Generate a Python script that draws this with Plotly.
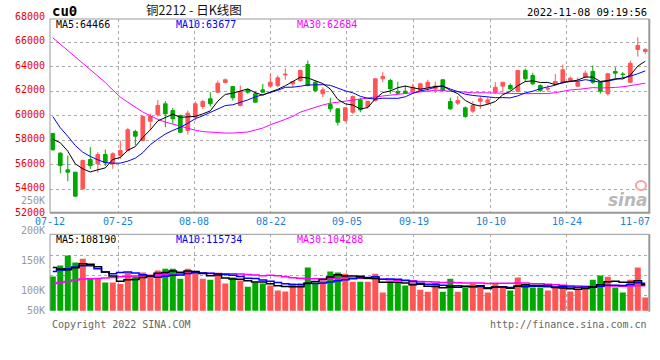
import plotly.graph_objects as go

# ---------------- data ----------------
dates = ["07-12","07-13","07-14","07-15","07-18","07-19","07-20","07-21","07-22","07-25",
         "07-26","07-27","07-28","07-29","08-01","08-02","08-03","08-04","08-05","08-08",
         "08-09","08-10","08-11","08-12","08-15","08-16","08-17","08-18","08-19","08-22",
         "08-23","08-24","08-25","08-26","08-29","08-30","08-31","09-01","09-02","09-05",
         "09-06","09-07","09-08","09-09","09-13","09-14","09-15","09-16","09-19","09-20",
         "09-21","09-22","09-23","09-26","09-27","09-28","09-29","09-30","10-10","10-11",
         "10-12","10-13","10-14","10-17","10-18","10-19","10-20","10-21","10-24","10-25",
         "10-26","10-27","10-28","10-31","11-01","11-02","11-03","11-04","11-07","11-08"]

opens = [58560,56950,55590,55400,54040,56430,56080,56840,56080,56750,
         57170,58720,57980,59560,60100,60980,60430,60020,58800,59890,
         60760,61390,61930,62720,62390,60840,62120,61800,62120,62420,
         62470,63330,62610,62880,64190,62740,61800,60920,60570,59620,
         60290,61300,60760,61250,63020,62880,61980,62010,61980,62070,
         62330,62200,62940,61170,61030,60650,60380,61190,61030,61930,
         62420,62470,62010,63700,63290,62470,62180,62610,62740,62880,
         62420,63150,63620,62740,61800,63620,63410,62740,65410,65250]
highs = [58600,57030,56760,55420,56430,57440,57030,57250,57030,57980,
         59020,58860,60000,60160,61300,61200,60650,60100,60430,61190,
         61300,61930,62880,63050,62400,62470,62200,62000,62610,63430,
         63300,63870,62800,63760,64510,62880,62330,61470,60570,60650,
         61660,61470,61190,63020,63560,63020,62780,62470,62610,62700,
         62940,62800,62980,61470,61610,60760,61190,61580,61520,62750,
         62740,62660,63700,63860,63520,62570,62510,63410,64190,63210,
         63140,63700,64110,62800,63480,63970,63560,64510,66420,65520]
lows = [57170,55310,54660,53360,53960,55670,55350,55890,55670,56490,
        57100,57570,57900,58800,59950,59070,59350,58580,58470,59620,
        60570,60760,61850,62660,61250,60760,61800,61050,61850,62330,
        62330,62940,62330,62800,62390,61930,61520,60290,59210,59480,
        60160,60290,60570,61190,62740,61800,61740,61800,61930,61980,
        61980,61850,61970,60490,60880,59840,60240,60570,60920,61810,
        61930,62070,61930,62780,62510,61970,61970,62610,62610,62740,
        62390,63100,62610,61800,61660,63100,63100,62660,64840,65060]
closes = [57220,55940,55400,53440,56350,55940,56840,56160,56900,57170,
          58860,58330,59940,59940,60840,60160,59760,58660,60210,60980,
          61170,60980,62660,62940,61470,61980,61930,61110,61930,62740,
          63100,63390,62800,63700,62470,62060,62120,60570,59480,60650,
          61580,60490,61190,63020,63210,62200,61850,61850,62330,62610,
          62740,62420,62070,60570,61250,59940,60840,61390,61300,62330,
          62740,62200,63700,63020,62610,62070,62220,62800,63760,63070,
          62740,63480,62740,62010,63430,63480,63370,64290,65740,65410]
volumes = [122200,140500,157200,145500,151700,117800,119500,112200,112200,109500,
           128800,122200,128800,125000,132200,135000,135000,118300,135000,127800,
           118300,116700,123800,110500,120500,115500,105000,112200,110500,107200,
           98800,97200,110500,110500,137200,112200,115500,130500,128800,126700,
           113300,113300,113300,126700,95500,113800,112800,107200,112200,100000,
           96700,111200,96700,118300,96700,103800,110000,103800,95500,110000,
           103800,98800,120500,108300,103800,103800,98800,102800,105500,97200,
           100000,103800,116700,123800,121700,103800,95500,116700,137200,87200]

# moving-average values at the start of the window (they
# depend on days before the first candle)
ma5_head = [58090, 57800, 57110, 56080]
ma10_head = [59940, 59020, 58330, 57570, 57030, 56680, 56410, 56180, 56130]
ma30_head = [66370, 65850, 65340, 64820, 64310, 63810, 63300, 62720, 62100, 61530,
             61110, 60680, 60310, 60010, 59710, 59490, 59310, 59130, 58980, 58820,
             58710, 58650, 58600, 58590, 58590, 58610, 58680, 58840, 59000]
vma5_head = [137200, 134500, 133300, 136700]
vma10_head = [130500, 132800, 135000, 137800, 140000, 140000, 135000, 129500, 126700]
vma30_head = [110500, 112200, 113800, 116200, 117800, 118300, 118800, 119500, 120500, 121700,
              122200, 122800, 123300, 123800, 125000, 125500, 126200, 126700, 127200, 127800,
              127800, 127200, 127200, 126700, 126700, 126200, 125500, 124500, 123300]

price_ticks = [52000, 54000, 56000, 58000, 60000, 62000, 64000, 66000, 68000]
vol_ticks = [100000, 150000, 200000, 250000]
vol_tick_text = ["100K", "150K", "200K", "250K"]
x_labels = ["07-12", "07-25", "08-08", "08-22", "09-05", "09-19", "10-10", "10-24", "11-07"]
header_price = ["MA5:64466", "MA10:63677", "MA30:62684"]
header_vol = ["MA5:108190", "MA10:115734", "MA30:104288"]

# ---------------- derived ----------------
def moving(vals, n, head):
    out = list(head)
    for i in range(n - 1, len(vals)):
        out.append(sum(vals[i - n + 1:i + 1]) / n)
    return out

xs = list(range(len(dates)))
ma5 = moving(closes, 5, ma5_head)
ma10 = moving(closes, 10, ma10_head)
ma30 = moving(closes, 30, ma30_head)
vma5 = moving(volumes, 5, vma5_head)
vma10 = moving(volumes, 10, vma10_head)
vma30 = moving(volumes, 30, vma30_head)

RED = "#ff5555"
GREEN = "#00a800"
vol_colors = [RED if c >= o else GREEN for o, c in zip(opens, closes)]

# ---------------- layout geometry (pixels) ----------------
W, H = 660, 360
L, R = 50, 649.3
P_TOP, P_BOT = 19, 212.7
V_TOP, V_BOT = 234.3, 310.7
STEP, X0 = 7.5, 52.8               # candle pitch and first candle centre
def xd(px):  # pixel -> x data
    return (px - X0) / STEP
def PX(px):
    return px / W
def PY(py):
    return 1 - py / H

PRICE_PER_PX = 1000 / 12.25
P_BASE_PX = 213.8                  # pixel row of 52000
p_lo = 52000 + (P_BASE_PX - P_BOT) * PRICE_PER_PX
p_hi = 52000 + (P_BASE_PX - P_TOP) * PRICE_PER_PX
VOL_PER_PX = 1666.7
v_lo = 65000
v_hi = v_lo + (V_BOT - V_TOP) * VOL_PER_PX
vol_grid = [v_lo + (V_BOT - py) * VOL_PER_PX for py in (255, 275, 295)]
grid_px = [118.3, 194.3, 270.5, 346.5, 413.8, 490.7, 566.7]
label_px = [50, 118.3, 194.3, 270.5, 346.5, 413.8, 490.7, 566.7, 635]
grid_x = [xd(p) for p in grid_px]

def price_py(v):
    return P_BASE_PX - (v - 52000) / PRICE_PER_PX
def vol_py(v):
    return min(V_BOT, V_BOT - (v - v_lo) / VOL_PER_PX)

MONO = "DejaVu Sans Mono"
GRID = "#aaaaaa"

fig = go.Figure()
fig.add_trace(go.Candlestick(
    x=xs, open=opens, high=highs, low=lows, close=closes, text=dates,
    increasing=dict(line=dict(color=RED, width=1), fillcolor=RED),
    decreasing=dict(line=dict(color=GREEN, width=1), fillcolor=GREEN),
    whiskerwidth=0, xaxis="x", yaxis="y", name="cu0"))
for vals, col in ((ma30, "#ff00ff"), (ma10, "#0000ff"), (ma5, "#000000")):
    fig.add_trace(go.Scatter(x=xs, y=vals, mode="lines", line=dict(color=col, width=1),
                             xaxis="x", yaxis="y", hoverinfo="skip"))
fig.add_trace(go.Bar(x=xs, y=volumes, marker=dict(color=vol_colors, line=dict(width=0)),
                     xaxis="x2", yaxis="y2", text=dates, textposition="none"))
for vals, col in ((vma30, "#ff00ff"), (vma10, "#0000ff"), (vma5, "#000000")):
    fig.add_trace(go.Scatter(x=xs, y=vals, mode="lines", line=dict(color=col, width=1.5, shape="hvh"),
                             xaxis="x2", yaxis="y2", hoverinfo="skip"))

axis_common = dict(showticklabels=False, ticks="", zeroline=False, showline=False,
                   showgrid=True, gridcolor=GRID, griddash="dot", gridwidth=1, fixedrange=True)

annotations = []
def ann(text, x, y, color="#000", size=10, xanchor="left", family=MONO):
    annotations.append(dict(text=text, x=x, y=y, xref="paper", yref="paper", showarrow=False,
                            xanchor=xanchor, yanchor="middle",
                            font=dict(family=family, size=size, color=color)))

# header
ann("<b>cu0</b>", PX(64.5), PY(11), size=14, xanchor="center")
ann("铜2212 - 日K线图", PX(194), PY(9.5), size=12.5, xanchor="center", family="Noto Sans CJK SC", color="#111")
ann("2022-11-08 09:19:56", PX(649.3), PY(11.5), size=10.5, xanchor="right")
for txt, px, col in zip(header_price, (53.5, 174, 295), ("#000000", "#0000ff", "#ff00ff")):
    ann(txt, PX(px), PY(24.5), color=col)
for txt, px, col in zip(header_vol, (53.5, 174, 295), ("#000000", "#0000ff", "#ff00ff")):
    ann(txt, PX(px), PY(239.5), color=col)
# price labels (68000 / 52000 sit just outside the plotted range)
for v in price_ticks:
    ann(str(v), PX(47), PY(price_py(v) - 1.5), color="#ee0000", xanchor="right")
# volume labels (50K is pinned to the panel floor)
for v, t in zip(vol_ticks, vol_tick_text):
    ann(t, PX(47), PY(vol_py(v) + 0.5), color="#999999", xanchor="right")
ann("50K", PX(47), PY(V_BOT), color="#999999", xanchor="right")
# date labels
for t, px in zip(x_labels, label_px):
    ann(t, PX(px), PY(221), color="#1a7fd4", xanchor="center")
# footer
ann("Copyright 2022 SINA.COM", PX(49.5), PY(324), color="#666666")
ann("http://finance.sina.com.cn", PX(649.3), PY(324), color="#666666", xanchor="right")
# sina watermark
annotations.append(dict(text="<b><i>sina</i></b>", x=PX(628), y=PY(200), xref="paper", yref="paper",
                        showarrow=False, xanchor="center", yanchor="middle",
                        font=dict(family="DejaVu Sans", size=17, color="#b9b9b9")))

def line(x0, y0, x1, y1, width=1, color="#999999"):
    return dict(type="line", xref="paper", yref="paper", x0=PX(x0), y0=PY(y0), x1=PX(x1), y1=PY(y1),
                line=dict(color=color, width=width), layer="above")

shapes = [
    line(L, P_TOP, R, P_TOP), line(L, P_TOP, L, P_BOT), line(L, P_BOT, R + 1, P_BOT, 2),
    line(R, P_TOP, R, P_BOT, 2),
    line(L, V_TOP, R, V_TOP), line(L, V_TOP, L, V_BOT), line(R, V_TOP, R, V_BOT + 1, 2),
    dict(type="circle", xref="paper", yref="paper", x0=PX(636), y0=PY(181), x1=PX(646), y1=PY(190),
         line=dict(color="#f2a6a6", width=2)),
]

fig.update_layout(
    width=W, height=H, margin=dict(l=0, r=0, t=0, b=0),
    paper_bgcolor="white", plot_bgcolor="white", showlegend=False,
    boxgap=0.3, bargap=0.2,
    xaxis=dict(domain=[PX(L), PX(R)], range=[xd(L), xd(R)], tickvals=grid_x, anchor="y",
               rangeslider=dict(visible=False), **axis_common),
    yaxis=dict(domain=[PY(P_BOT), PY(P_TOP)], range=[p_lo, p_hi], tickvals=price_ticks[1:-1],
               anchor="x", **axis_common),
    xaxis2=dict(domain=[PX(L), PX(R)], range=[xd(L), xd(R)], tickvals=grid_x, anchor="y2",
                **axis_common),
    yaxis2=dict(domain=[PY(V_BOT), PY(V_TOP)], range=[v_lo, v_hi], tickvals=vol_grid,
                anchor="x2", **axis_common),
    annotations=annotations, shapes=shapes,
)

fig.write_html("out.html", config={"displayModeBar": False},
               post_script="document.body.style.margin='0';document.body.style.overflow='hidden';")
